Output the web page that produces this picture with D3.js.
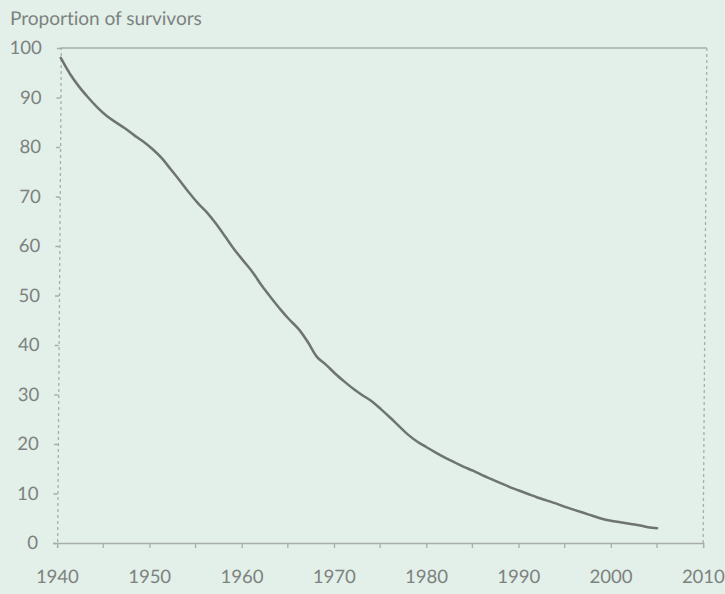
<!DOCTYPE html>
<html>
<head>
<meta charset="utf-8">
<script src="https://cdn.jsdelivr.net/npm/d3@7"></script>
<style>
  html, body { margin: 0; padding: 0; background: #e3efe9; }
  svg { display: block; }
  text { font-family: Lato, "Open Sans", sans-serif; fill: #7c827e; font-variant-ligatures: none; }
</style>
</head>
<body>
<svg id="chart" width="725" height="594"></svg>
<script>
// ---- data ----
const years = [1940,1941,1942,1943,1944,1945,1946,1947,1948,1949,
               1950,1951,1952,1953,1954,1955,1956,1957,1958,1959,
               1960,1961,1962,1963,1964,1965,1966,1967,1968,1969,
               1970,1971,1972,1973,1974,1975,1976,1977,1978,1979,
               1980,1981,1982,1983,1984,1985,1986,1987,1988,1989,
               1990,1991,1992,1993,1994,1995,1996,1997,1998,1999,
               2000,2001,2002,2003,2004,2005];
const survivors = [98,94.8,92.2,90,88,86.3,85,83.8,82.4,81.1,
                   79.6,77.8,75.5,73.2,70.8,68.6,66.7,64.4,61.8,59.2,
                   56.9,54.6,51.9,49.5,47.2,45.1,43.2,40.6,37.6,36,
                   34.2,32.6,31.1,29.8,28.6,27.0,25.3,23.5,21.8,20.4,
                   19.3,18.2,17.2,16.3,15.4,14.6,13.7,12.9,12.1,11.3,
                   10.6,9.9,9.2,8.6,8.0,7.3,6.7,6.1,5.5,4.9,
                   4.5,4.2,3.9,3.6,3.2,3.0];
const xTickLabels = [1940,1950,1960,1970,1980,1990,2000,2010];
const xMinorTicks = [1945,1955,1965,1975,1985,1995,2005];
const yTickLabels = [0,10,20,30,40,50,60,70,80,90,100];
const yTitle = "Proportion of survivors";

// ---- layout ----
const svg = d3.select("#chart");
const pL = 59, pR = 705, pT = 48, pB = 543;
const x = d3.scaleLinear().domain([1940, 2010]).range([pL, pR]);
const y = d3.scaleLinear().domain([0, 100]).range([pB, pT]);

// slight scanner skew
const cy = (pT + pB) / 2;
const g = svg.append("g")
  .attr("transform", `translate(0,${cy}) skewX(-0.43) translate(0,${-cy})`);

const axisCol = "#a7aeaa";
const textCol = "#7c827e";

// top border (solid)
g.append("line").attr("x1", pL).attr("x2", pR).attr("y1", pT).attr("y2", pT)
  .attr("stroke", axisCol).attr("stroke-width", 1.3);
// right border (dashed)
g.append("line").attr("x1", pR).attr("x2", pR).attr("y1", pT).attr("y2", pB)
  .attr("stroke", axisCol).attr("stroke-width", 1.3).attr("stroke-dasharray", "3,3");

// y axis
const yAxis = d3.axisLeft(y).tickValues(yTickLabels).tickSize(4).tickPadding(15)
  .tickFormat(d3.format("d"));
const yg = g.append("g").attr("transform", `translate(${pL},0)`).call(yAxis);
yg.select(".domain").attr("stroke", axisCol).attr("stroke-width", 1.3).attr("stroke-dasharray", "3,3");
yg.selectAll(".tick line").attr("stroke", axisCol).attr("stroke-width", 1.3);
yg.selectAll(".tick text").attr("font-size", 18.5).attr("fill", textCol)
  .attr("font-family", "Lato, 'Open Sans', sans-serif");

// x axis
const xAxis = d3.axisBottom(x).tickValues(xTickLabels).tickSize(5).tickPadding(22)
  .tickFormat(d3.format("d"));
const xg = g.append("g").attr("transform", `translate(0,${pB})`).call(xAxis);
xg.select(".domain").attr("stroke", axisCol).attr("stroke-width", 1.3);
xg.selectAll(".tick line").attr("stroke", axisCol).attr("stroke-width", 1.3);
xg.selectAll(".tick text").attr("font-size", 18.5).attr("fill", textCol)
  .attr("font-family", "Lato, 'Open Sans', sans-serif");
// minor ticks
g.append("g").selectAll("line").data(xMinorTicks).join("line")
  .attr("x1", d => x(d)).attr("x2", d => x(d))
  .attr("y1", pB).attr("y2", pB + 5)
  .attr("stroke", axisCol).attr("stroke-width", 1.3);

// title
g.append("text").attr("x", 8).attr("y", 25).attr("font-size", 19).text(yTitle);

// survivors line
const line = d3.line().x((d, i) => x(years[i])).y(d => y(d)).curve(d3.curveMonotoneX);
g.append("path").datum(survivors)
  .attr("d", line)
  .attr("fill", "none")
  .attr("stroke", "#6e7471")
  .attr("stroke-width", 2.5)
  .attr("stroke-linecap", "round")
  .attr("stroke-linejoin", "round");
</script>
</body>
</html>
